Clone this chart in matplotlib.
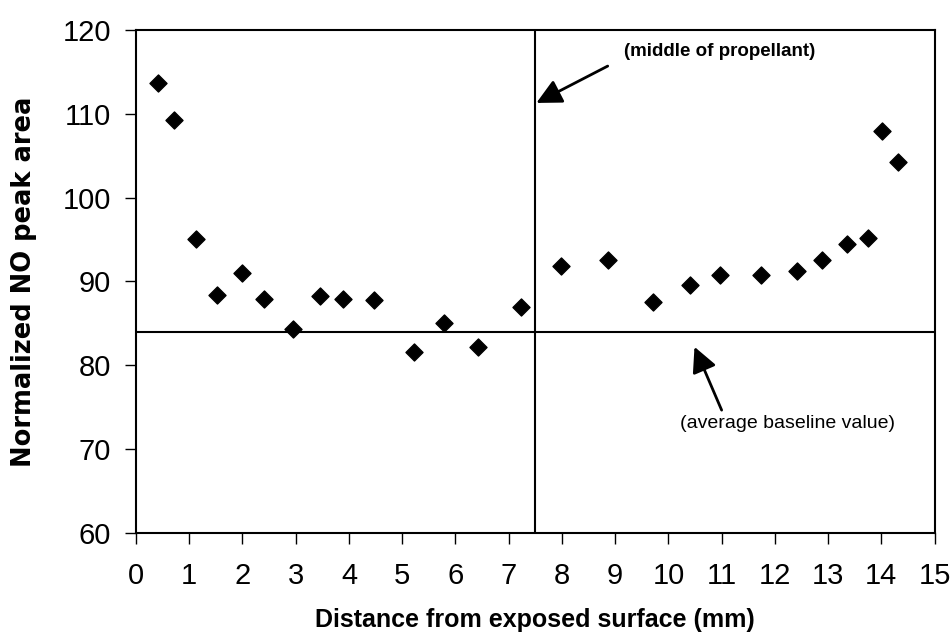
import matplotlib.pyplot as plt
import numpy as np

# distance from exposed surface (mm) and normalized NO peak area
dist = [0.41, 0.71, 1.13, 1.53, 1.99, 2.40, 2.95, 3.45, 3.88, 4.47, 5.22, 5.78, 6.43,
        7.24, 7.99, 8.86, 9.72, 10.41, 10.96, 11.73, 12.42, 12.89, 13.36, 13.75, 14.02, 14.32]
area = [113.7, 109.3, 95.1, 88.4, 91.0, 87.9, 84.3, 88.3, 87.9, 87.8, 81.6, 85.0, 82.2,
        86.9, 91.8, 92.6, 87.5, 89.6, 90.8, 90.8, 91.2, 92.6, 94.5, 95.2, 108.0, 104.2]

middle = 7.5
baseline = 84.0

xticks = list(range(0, 16))
yticks = [60, 70, 80, 90, 100, 110, 120]

plt.rcParams['font.family'] = ['Liberation Sans', 'DejaVu Sans']

fig = plt.figure(figsize=(9.53, 6.39), dpi=100)
ax = fig.add_axes([0.1427, 0.166, 0.838, 0.787])

ax.scatter(dist, area, marker='D', s=75, color='black', zorder=3)
ax.axvline(middle, color='black', lw=1.5)
ax.axhline(baseline, color='black', lw=1.5)

ax.set_xlim(0, 15)
ax.set_ylim(60, 120)
ax.set_xticks(xticks)
ax.set_yticks(yticks)
ax.tick_params(axis='both', direction='out', length=8, width=1)
ax.tick_params(axis='y', labelsize=21, pad=10)
ax.tick_params(axis='x', labelsize=21, pad=13)
for s in ax.spines.values():
    s.set_linewidth(1.5)

ax.set_xlabel('Distance from exposed surface (mm)', fontsize=18, fontweight='bold')
ax.xaxis.set_label_coords(0.5, -0.15)
ax.set_ylabel('Normalized NO peak area', fontsize=18.5, fontweight='bold', family='DejaVu Sans')
ax.yaxis.set_label_coords(-0.124, 0.5)

# middle of propellant note
ax.annotate('', xy=(7.52, 111.3), xytext=(8.86, 115.7),
            arrowprops=dict(arrowstyle='-|>', color='black', lw=2, mutation_scale=38,
                            shrinkA=0, shrinkB=0))
ax.text(10.96, 117.4, '(middle of propellant)', fontsize=13.5, fontweight='bold',
        ha='center', va='center')

# baseline note
ax.annotate('', xy=(10.49, 82.2), xytext=(11.0, 74.65),
            arrowprops=dict(arrowstyle='-|>', color='black', lw=2, mutation_scale=38,
                            shrinkA=0, shrinkB=0))
ax.text(12.23, 73.0, '(average baseline value)', fontsize=14,
        ha='center', va='center')

fig.savefig('out.png', dpi=100)
